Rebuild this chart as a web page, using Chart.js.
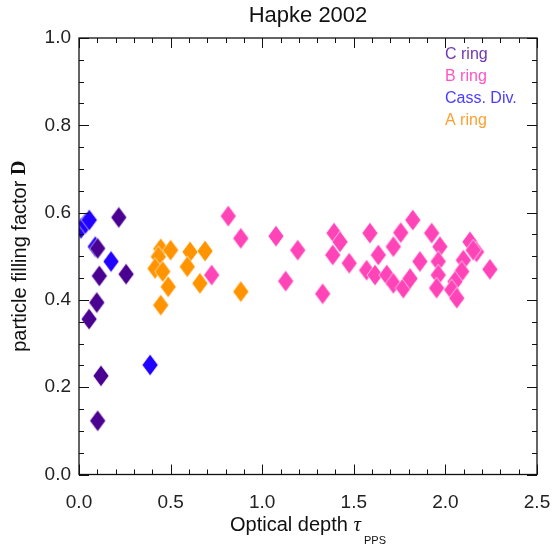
<!DOCTYPE html>
<html>
<head>
<meta charset="utf-8">
<script src="https://cdn.jsdelivr.net/npm/chart.js@4"></script>
<style>
  html, body { margin: 0; padding: 0; background: #fff; }
  #wrap { width: 552px; height: 553px; }
</style>
</head>
<body>
<div id="wrap"><canvas id="grafico" width="552" height="553"></canvas></div>
<script>
// datos (x = profundidad optica, y = factor de llenado)
const cRingX = [0.217, 0.102, 0.111, 0.257, 0.097, 0.055, 0.120, 0.102];
const cRingY = [0.589, 0.518, 0.455, 0.459, 0.394, 0.356, 0.226, 0.123];

const aRingX = [0.446, 0.500, 0.433, 0.606, 0.688, 0.591, 0.415, 0.457, 0.487, 0.660, 0.446, 0.883];
const aRingY = [0.517, 0.514, 0.499, 0.510, 0.512, 0.476, 0.472, 0.465, 0.430, 0.438, 0.388, 0.419];

const bRingX = [0.815, 0.883, 0.724, 1.075, 1.194, 1.128, 1.330, 1.392, 1.425, 1.385, 1.475,
                1.588, 1.570, 1.616, 1.634, 1.716, 1.756, 1.822, 1.680, 1.716, 1.770, 1.807, 1.861,
                1.925, 1.970, 1.961, 1.961, 1.952, 2.134, 2.170, 2.152, 2.098, 2.089, 2.052, 2.034, 2.062, 2.243];
const bRingY = [0.592, 0.541, 0.457, 0.546, 0.514, 0.443, 0.414, 0.553, 0.533, 0.503, 0.484,
                0.553, 0.468, 0.457, 0.503, 0.522, 0.554, 0.583, 0.457, 0.438, 0.427, 0.449, 0.488,
                0.553, 0.522, 0.488, 0.457, 0.427, 0.533, 0.510, 0.514, 0.491, 0.465, 0.442, 0.423, 0.404, 0.470];

const cassX = [0.011, 0.035, 0.056, 0.089, 0.175, 0.388];
const cassY = [0.564, 0.575, 0.583, 0.522, 0.488, 0.251];

const xTicks = [0.0, 0.5, 1.0, 1.5, 2.0, 2.5];
const yTicks = [0.0, 0.2, 0.4, 0.6, 0.8, 1.0];

const leyenda = ['C ring', 'B ring', 'Cass. Div.', 'A ring'];

const colores = {
    c: '#4a0090',
    b: '#ff44b8',
    cass: '#2200ff',
    a: '#ff9400'
};
const coloresTexto = ['#7038b0', '#ff55c0', '#4a3cff', '#ffa030'];

const fuente = '"Liberation Sans", Arial, Helvetica, sans-serif';
const serif = '"Liberation Serif", "DejaVu Serif", serif';

function rombo(color) {
    const c = document.createElement('canvas');
    c.width = 18; c.height = 24;
    const g = c.getContext('2d');
    g.beginPath();
    g.moveTo(9, 1.2);
    g.lineTo(17, 12);
    g.lineTo(9, 22.8);
    g.lineTo(1, 12);
    g.closePath();
    g.fillStyle = color;
    g.fill();
    g.strokeStyle = 'rgba(255,255,255,0.8)';
    g.lineWidth = 0.8;
    g.stroke();
    return c;
}

function puntos(xs, ys) {
    return xs.map((x, i) => ({ x: x, y: ys[i] }));
}

// marcos, ticks interiores, titulos y leyenda
const decorado = {
    id: 'decorado',
    afterDraw(chart) {
        const ctx = chart.ctx;
        const a = chart.chartArea;
        const sx = chart.scales.x;
        const sy = chart.scales.y;
        ctx.save();
        ctx.strokeStyle = '#111';
        ctx.lineWidth = 1.3;
        ctx.strokeRect(a.left, a.top, a.right - a.left, a.bottom - a.top);

        ctx.lineWidth = 1;
        for (let i = 0; i <= 25; i++) {
            const v = i / 10;
            const px = Math.round(sx.getPixelForValue(v)) + 0.5;
            const len = (i % 5 === 0) ? 10 : 5;
            ctx.beginPath();
            ctx.moveTo(px, a.bottom); ctx.lineTo(px, a.bottom - len);
            ctx.moveTo(px, a.top); ctx.lineTo(px, a.top + len);
            ctx.stroke();
        }
        for (let i = 0; i <= 20; i++) {
            const v = i / 20;
            const py = Math.round(sy.getPixelForValue(v)) + 0.5;
            const len = (i % 4 === 0) ? 10 : 5;
            ctx.beginPath();
            ctx.moveTo(a.left, py); ctx.lineTo(a.left + len, py);
            ctx.moveTo(a.right, py); ctx.lineTo(a.right - len, py);
            ctx.stroke();
        }

        // titulo
        ctx.fillStyle = '#111';
        ctx.textAlign = 'center';
        ctx.textBaseline = 'middle';
        ctx.font = '22px ' + fuente;
        ctx.fillText('Hapke 2002', (a.left + a.right) / 2, 16);

        // titulo eje x
        ctx.textAlign = 'left';
        ctx.textBaseline = 'alphabetic';
        const t1 = 'Optical depth ';
        ctx.font = '20px ' + fuente;
        const w1 = ctx.measureText(t1).width;
        ctx.font = 'italic 21px ' + serif;
        const w2 = ctx.measureText('\u03c4').width;
        ctx.font = '11px ' + fuente;
        const w3 = ctx.measureText('PPS').width;
        let x0 = (a.left + a.right) / 2 - (w1 + w2 + 3 + w3) / 2;
        ctx.font = '20px ' + fuente;
        ctx.fillText(t1, x0, 531);
        ctx.font = 'italic 21px ' + serif;
        ctx.fillText('\u03c4', x0 + w1, 531);
        ctx.font = '11px ' + fuente;
        ctx.fillText('PPS', x0 + w1 + w2 + 3, 544);

        // titulo eje y
        ctx.save();
        ctx.translate(20, (a.top + a.bottom) / 2);
        ctx.rotate(-Math.PI / 2);
        ctx.font = '20px ' + fuente;
        const t4 = 'particle filling factor ';
        const w4 = ctx.measureText(t4).width;
        ctx.font = 'bold 20px ' + serif;
        const w5 = ctx.measureText('D').width;
        let y0 = -(w4 + w5) / 2;
        ctx.textBaseline = 'middle';
        ctx.font = '20px ' + fuente;
        ctx.fillText(t4, y0, 0);
        ctx.font = 'bold 20px ' + serif;
        ctx.fillText('D', y0 + w4, 0);
        ctx.restore();

        // leyenda
        ctx.font = '16px ' + fuente;
        ctx.textAlign = 'left';
        ctx.textBaseline = 'middle';
        leyenda.forEach((txt, i) => {
            ctx.fillStyle = coloresTexto[i];
            ctx.fillText(txt, 445, 55 + i * 21.7);
        });
        ctx.restore();
    }
};

const ctxGrafico = document.getElementById('grafico');

let graficoHapke = new Chart(ctxGrafico, {
    type: 'scatter',
    data: {
        datasets: [
            { label: leyenda[0], data: puntos(cRingX, cRingY), pointStyle: rombo(colores.c) },
            { label: leyenda[3], data: puntos(aRingX, aRingY), pointStyle: rombo(colores.a) },
            { label: leyenda[1], data: puntos(bRingX, bRingY), pointStyle: rombo(colores.b) },
            { label: leyenda[2], data: puntos(cassX, cassY), pointStyle: rombo(colores.cass) }
        ]
    },
    options: {
        responsive: false,
        animation: false,
        layout: { padding: { left: 0, right: 15, top: 38, bottom: 0 } },
        plugins: {
            legend: { display: false },
            tooltip: { enabled: false },
            title: { display: false }
        },
        scales: {
            x: {
                type: 'linear',
                min: 0, max: 2.5,
                afterFit: s => { s.height = 78.5; s.paddingLeft = 0; s.paddingRight = 0; },
                afterBuildTicks: s => { s.ticks = xTicks.map(v => ({ value: v })); },
                grid: { display: false, drawTicks: false },
                border: { display: false },
                ticks: {
                    padding: 17,
                    color: '#222',
                    font: { family: fuente, size: 19 },
                    maxRotation: 0,
                    callback: v => v.toFixed(1)
                }
            },
            y: {
                type: 'linear',
                min: 0, max: 1,
                afterFit: s => { s.width = 79; s.paddingTop = 0; s.paddingBottom = 0; },
                afterBuildTicks: s => { s.ticks = yTicks.map(v => ({ value: v })); },
                grid: { display: false, drawTicks: false },
                border: { display: false },
                ticks: {
                    padding: 8,
                    color: '#222',
                    font: { family: fuente, size: 19 },
                    callback: v => v.toFixed(1)
                }
            }
        }
    },
    plugins: [decorado]
});
</script>
</body>
</html>
